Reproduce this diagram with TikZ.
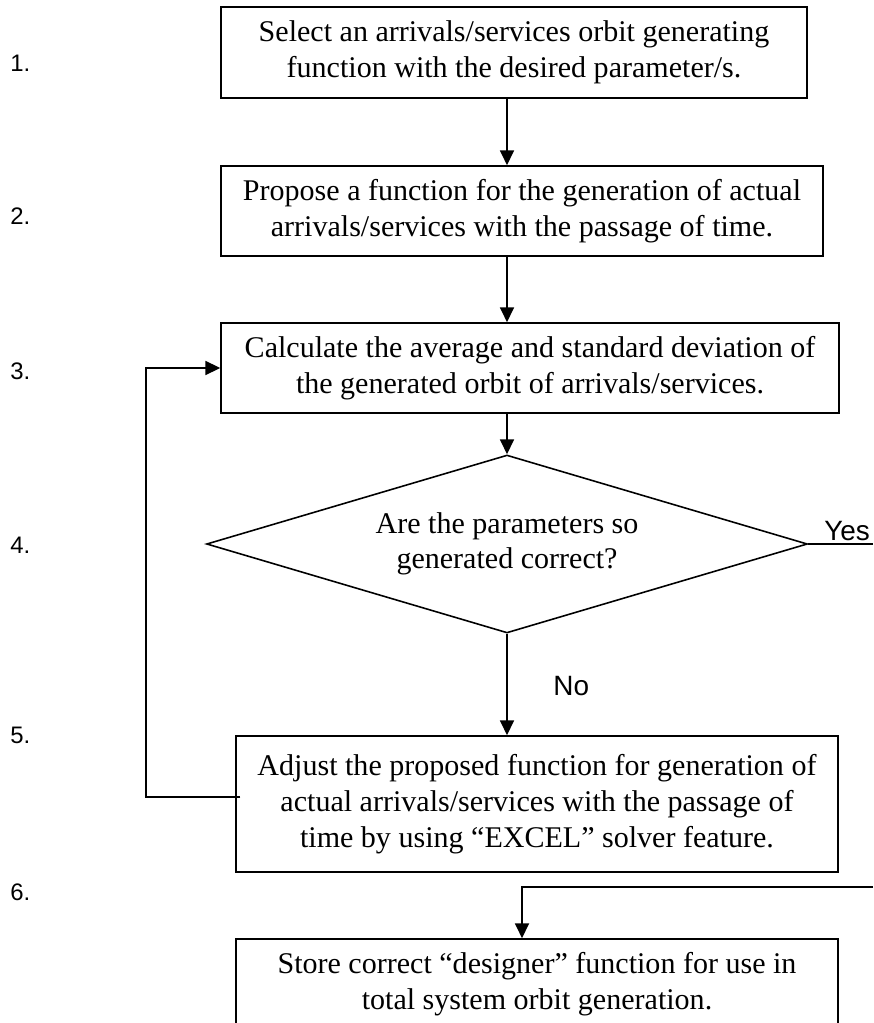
\documentclass[tikz,border=0pt]{standalone}
\usepackage{fontspec}
\setmainfont{Liberation Serif}
\setsansfont{Liberation Sans}
\usetikzlibrary{shapes.geometric, arrows.meta}

\begin{document}
\begin{tikzpicture}[x=0.02cm,y=-0.02cm]
	\tikzstyle{process} = [rectangle,fill=white,draw=black,line width=0.9pt,align=center,inner sep=0pt,font=\fontsize{17.1}{20.4}\selectfont]
	\tikzstyle{decision} = [diamond,fill=white,draw=black,line width=0.9pt,align=center,inner sep=0pt,aspect=3.38,font=\fontsize{17.1}{20}\selectfont]
	\tikzstyle{edge} = [-{Triangle[length=8.5pt,width=8pt]},line width=0.9pt]
	\tikzstyle{line} = [-,line width=0.9pt]
	\tikzstyle{steplabel} = [anchor=base west,inner sep=0pt,font=\sffamily\fontsize{13.6}{16}\selectfont]
	\tikzstyle{answer} = [anchor=base west,inner sep=0pt,font=\sffamily\fontsize{15.9}{19}\selectfont]
	\useasboundingbox (0,0) rectangle (873,1023);
	\node[process,minimum width=11.72cm,minimum height=1.82cm] (n1) at (514,52.5) {Select an arrivals/services orbit generating\\function with the desired parameter/s.};
	\node[process,minimum width=12.04cm,minimum height=1.8cm] (n2) at (522,211) {Propose a function for the generation of actual\\arrivals/services with the passage of time.};
	\node[process,minimum width=12.36cm,minimum height=1.8cm] (n3) at (530,368) {Calculate the average and standard deviation of\\the generated orbit of arrivals/services.};
	\node[decision,minimum width=12.02cm,minimum height=3.56cm] (n4) at (507,544) {Are the parameters so\\generated correct?};
	\node[process,minimum width=12.04cm,minimum height=2.72cm] (n5) at (537,804) {Adjust the proposed function for generation of\\actual arrivals/services with the passage of\\time by using “EXCEL” solver feature.};
	\node[process,minimum width=12.04cm,minimum height=1.8cm] (n6) at (537,984) {Store correct “designer” function for use in\\total system orbit generation.};
	\node[steplabel] (s1) at (10,72) {1.};
	\node[steplabel] (s2) at (10,225) {2.};
	\node[steplabel] (s3) at (10,379) {3.};
	\node[steplabel] (s4) at (10,553) {4.};
	\node[steplabel] (s5) at (10,743) {5.};
	\node[steplabel] (s6) at (10,900) {6.};
	\node[answer] (no) at (553,695) {No};
	\node[answer] (yes) at (824,540) {Yes};
	\coordinate (yesend) at (873,544);
	\coordinate (back) at (873,887);
	\coordinate (loop) at (146,797);
	\draw[edge] (n1.south -| n4.north) -- (n2.north -| n4.north);
	\draw[edge] (n2.south -| n4.north) -- (n3.north -| n4.north);
	\draw[edge] (n3.south -| n4.north) -- (n4.north);
	\draw[edge] (n4.south) -- (n5.north -| n4.south);
	\draw[line] (n4.east) -- (yesend);
	\draw[edge] ([xshift=0.1cm]n5.west |- loop) -- (loop) |- (n3.west);
	\draw[edge] (back) -| ([xshift=-0.3cm]n6.north);
\end{tikzpicture}
\end{document}
